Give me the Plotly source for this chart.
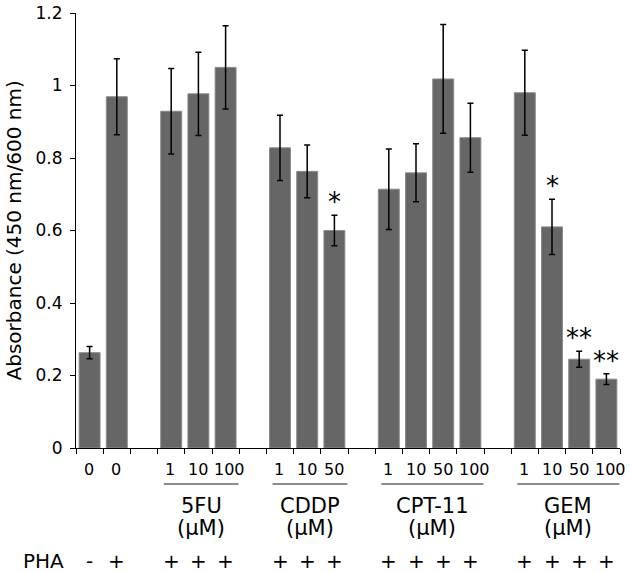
import plotly.graph_objects as go

# ---- data (one entry per slot along the x axis; "" = empty spacer slot) ----
slot_labels = ["0", "0", "", "1", "10", "100", "", "1", "10", "50", "",
               "1", "10", "50", "100", "", "1", "10", "50", "100"]
values = [0.263, 0.969, None, 0.929, 0.977, 1.050, None, 0.828, 0.763, 0.600, None,
          0.714, 0.759, 1.018, 0.856, None, 0.980, 0.610, 0.245, 0.190]
errors = [0.017, 0.105, None, 0.118, 0.115, 0.115, None, 0.090, 0.073, 0.042, None,
          0.111, 0.080, 0.150, 0.095, None, 0.117, 0.076, 0.022, 0.015]
pha = ["-", "+", "", "+", "+", "+", "", "+", "+", "+", "",
       "+", "+", "+", "+", "", "+", "+", "+", "+"]
significance = ["", "", "", "", "", "", "", "", "", "*", "",
                "", "", "", "", "", "", "*", "**", "**"]
slot_group = ["", "", "", "5FU", "5FU", "5FU", "", "CDDP", "CDDP", "CDDP", "",
              "CPT-11", "CPT-11", "CPT-11", "CPT-11", "", "GEM", "GEM", "GEM", "GEM"]
group_names = ["5FU", "CDDP", "CPT-11", "GEM"]
group_unit = "(μM)"
y_ticks = [0, 0.2, 0.4, 0.6, 0.8, 1.0, 1.2]

FONT = "DejaVu Sans, Verdana, sans-serif"
n = len(slot_labels)
xs = list(range(n))

fig = go.Figure()
bx = [x for x, v in zip(xs, values) if v is not None]
by = [v for v in values if v is not None]
be = [e for e in errors if e is not None]
fig.add_trace(go.Bar(
    x=bx, y=by, width=0.77,
    marker=dict(color="#666666", line=dict(color="#8a8a8a", width=1)),
    error_y=dict(type="data", array=be, visible=True, color="#000000",
                 thickness=1.5, width=3),
    showlegend=False, hoverinfo="skip",
))

annotations = []
# x tick labels (short labels nudged left, long ones right, as in the original)
for x, lab in zip(xs, slot_labels):
    if lab:
        nudge = {1: -1, 2: 0, 3: 4}[len(lab)]
        annotations.append(dict(x=x, y=0, xref="x", yref="paper", text=lab,
                                showarrow=False, yanchor="middle", yshift=-21,
                                xshift=nudge, font=dict(size=16, color="#000")))
# PHA row
for x, s in zip(xs, pha):
    if s:
        annotations.append(dict(x=x, y=0, xref="x", yref="paper", text=s,
                                showarrow=False, yanchor="middle", yshift=-113,
                                font=dict(size=20, color="#000")))
annotations.append(dict(x=0, y=0, xref="paper", yref="paper", text="PHA",
                        showarrow=False, xanchor="left", yanchor="middle",
                        xshift=-55, yshift=-113, font=dict(size=20, color="#000")))
# significance marks
for x, v, e, s in zip(xs, values, errors, significance):
    if s:
        annotations.append(dict(x=x, y=v + e, xref="x", yref="y", text=s,
                                showarrow=False, yanchor="bottom", yshift=-4,
                                font=dict(size=26, color="#000")))
# group labels and lines
shapes = []
for g in group_names:
    idx = [i for i, sg in enumerate(slot_group) if sg == g]
    c = (idx[0] + idx[-1]) / 2
    half = (len(idx) - 0.25) / 2
    shapes.append(dict(type="line", xref="x", yref="paper",
                       x0=c - half + 0.1, x1=c + half + 0.1,
                       ysizemode="pixel", yanchor=0, y0=-36, y1=-36,
                       line=dict(color="#8c8c8c", width=2)))
    annotations.append(dict(x=c + 0.1, y=0, xref="x", yref="paper", text=g,
                            showarrow=False, yanchor="middle", yshift=-58,
                            font=dict(size=21, color="#000")))
    annotations.append(dict(x=c + 0.1, y=0, xref="x", yref="paper", text=group_unit,
                            showarrow=False, yanchor="middle", yshift=-80,
                            font=dict(size=21, color="#000")))
# y axis title
annotations.append(dict(x=0, y=0.5, xref="paper", yref="paper",
                        text="Absorbance (450 nm/600 nm)", textangle=-90,
                        showarrow=False, xanchor="center", yanchor="middle",
                        xshift=-63, font=dict(size=20, color="#000")))

fig.update_layout(
    width=630, height=572,
    margin=dict(l=76, r=10, t=13, b=124, autoexpand=False),
    paper_bgcolor="white", plot_bgcolor="white",
    font=dict(family=FONT, color="#000"),
    bargap=0.23,
    xaxis=dict(range=[-0.5, n - 0.5], tickvals=[i - 0.5 for i in range(n + 1)],
               showticklabels=False, ticks="outside", ticklen=5, tickcolor="#000",
               showline=True, linecolor="#000", linewidth=1, showgrid=False,
               zeroline=False, fixedrange=True, automargin=False),
    yaxis=dict(range=[0, 1.2], tickvals=y_ticks,
               ticktext=[f"{t:g}" for t in y_ticks],
               ticks="outside", ticklen=5, tickcolor="#000",
               tickfont=dict(size=17, color="#000"), ticklabelstandoff=4,
               showline=True, linecolor="#000", linewidth=1, showgrid=False,
               zeroline=False, fixedrange=True, automargin=False),
    annotations=annotations,
    shapes=shapes,
)
fig.write_html("out.html", config={"displayModeBar": False})

# remove default page margin so the figure sits at the window's top-left
with open("out.html", encoding="utf-8") as f:
    html = f.read()
html = html.replace("<head>", "<head><style>html,body{margin:0;padding:0;overflow:hidden;}</style>", 1)
with open("out.html", "w", encoding="utf-8") as f:
    f.write(html)
